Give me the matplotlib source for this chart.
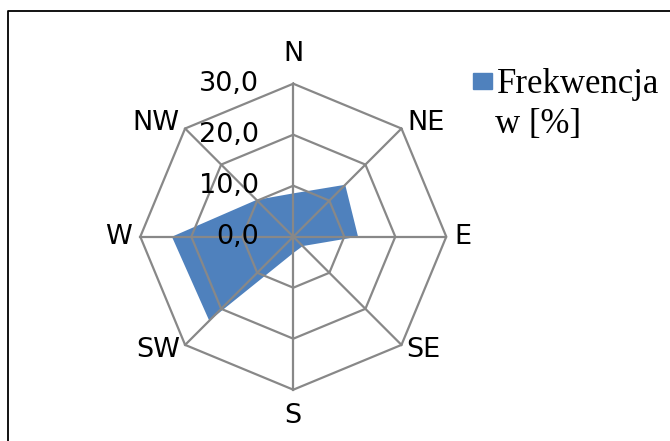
import matplotlib.pyplot as plt
import numpy as np
from matplotlib.lines import Line2D
from matplotlib.patches import Rectangle

# Kierunki wiatru i frekwencja [%]
kierunki = ["N", "NE", "E", "SE", "S", "SW", "W", "NW"]
frekwencja = [8.5, 14.4, 12.7, 2.6, 3.2, 23.3, 23.8, 10.2]
pierscienie = [0, 10, 20, 30]
etykiety_osi = ["0,0", "10,0", "20,0", "30,0"]

fig = plt.figure(figsize=(6.7, 4.41), dpi=100)
ax = fig.add_axes([0.2094, 0.1163, 0.4567, 0.6939], projection="polar")
ax.set_theta_zero_location("N")
ax.set_theta_direction(-1)
ax.set_ylim(0, 30)
ax.grid(False)
ax.spines["polar"].set_visible(False)
ax.set_xticks([])
ax.set_yticks([])
ax.patch.set_alpha(0)

theta = np.arange(len(kierunki)) * 2 * np.pi / len(kierunki)
th_c = np.append(theta, theta[0])

# Obszar danych
ax.fill(th_c, np.append(frekwencja, frekwencja[0]), color="#4F81BD", lw=0, zorder=2)

# Siatka ośmiokątna
grid_kw = dict(color="#888888", lw=1.6, zorder=3, clip_on=False)
for r in pierscienie[1:]:
    ax.plot(th_c, [r] * len(th_c), **grid_kw)
for t in theta:
    ax.plot([t, t], [0, pierscienie[-1]], **grid_kw)

# Etykiety kierunków
font = dict(family="DejaVu Sans", fontsize=19.5, color="black")
ustaw = {
    "N": ("center", 35.9),
    "NE": ("left", 31.5),
    "E": ("left", 31.6),
    "SE": ("left", 31.3),
    "S": ("center", 35.2),
    "SW": ("right", 31.3),
    "W": ("right", 31.6),
    "NW": ("right", 31.5),
}
for t, k in zip(theta, kierunki):
    ha, rr = ustaw[k]
    ax.text(t, rr, k, ha=ha, va="center", clip_on=False, **font)

# Etykiety wartości
for r, lab in zip(pierscienie, etykiety_osi):
    ax.annotate(lab, xy=(0, r), xytext=(-24.5, 0), textcoords="offset points",
                ha="right", va="center", zorder=4, **font)

# Legenda
fig.patches.append(Rectangle((473.3 / 670, 1 - 89.3 / 441), 18.4 / 670, 16.6 / 441,
                             transform=fig.transFigure, color="#4F81BD", figure=fig))
fig.text(497 / 670, 1 - 92.7 / 441, "Frekwencja", family="Liberation Serif",
         fontsize=25, va="baseline", ha="left")
fig.text(495 / 670, 1 - 132.5 / 441, "w [%]", family="Liberation Serif",
         fontsize=25, va="baseline", ha="left")

# Ramka (lewa i górna krawędź)
fig.add_artist(Line2D([8 / 670, 8 / 670, 1], [0, 1 - 11 / 441, 1 - 11 / 441],
                      transform=fig.transFigure, color="black", lw=1.3))

plt.savefig("out.png", dpi=100)
